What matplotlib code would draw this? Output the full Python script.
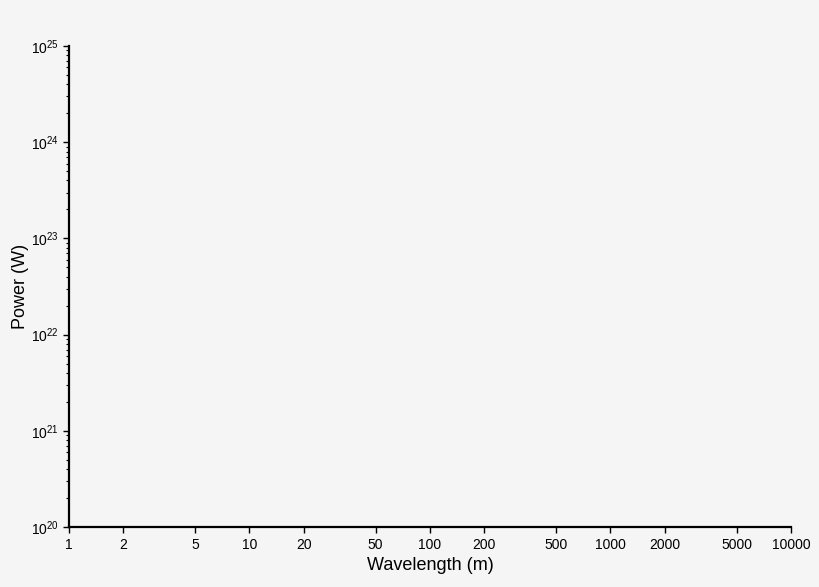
import numpy as np
import matplotlib.pyplot as plt
from matplotlib.ticker import FixedLocator, FixedFormatter, LogLocator, NullFormatter

x_ticks = [1, 2, 5, 10, 20, 50, 100, 200, 500, 1000, 2000, 5000, 10000]
x_labels = [str(t) for t in x_ticks]
x_range = (1, 10000)
y_range = (1e20, 1e25)
x_title = "Wavelength (m)"
y_title = "Power (W)"

bg = "#f5f5f5"
plt.rcParams['font.family'] = ['Liberation Sans', 'DejaVu Sans']

fig = plt.figure(figsize=(8.2, 5.87), dpi=100, facecolor=bg)
ax = fig.add_axes([0.0841, 0.1022, 0.8805, 0.8194], facecolor=bg)

ax.set_xscale('log')
ax.set_yscale('log')
ax.set_xlim(*x_range)
ax.set_ylim(*y_range)

ax.xaxis.set_major_locator(FixedLocator(x_ticks))
ax.xaxis.set_major_formatter(FixedFormatter(x_labels))
ax.xaxis.set_minor_locator(FixedLocator([]))
ax.yaxis.set_major_locator(LogLocator(base=10, numticks=10))
ax.yaxis.set_minor_locator(LogLocator(base=10, subs=np.arange(2, 10), numticks=20))
ax.yaxis.set_minor_formatter(NullFormatter())

for side in ['top', 'right']:
    ax.spines[side].set_visible(False)
for side in ['left', 'bottom']:
    ax.spines[side].set_linewidth(1.6)
    ax.spines[side].set_color('black')

ax.tick_params(which='major', length=4.3, width=1, labelsize=10, colors='black')
ax.tick_params(which='minor', length=2.5, width=0.8)
ax.tick_params(axis='x', pad=3.5)
ax.tick_params(axis='y', pad=3)

ax.set_xlabel(x_title, fontsize=13, labelpad=4)
ax.set_ylabel(y_title, fontsize=13, labelpad=1.5)

fig.savefig("out.png", dpi=100, facecolor=bg)
